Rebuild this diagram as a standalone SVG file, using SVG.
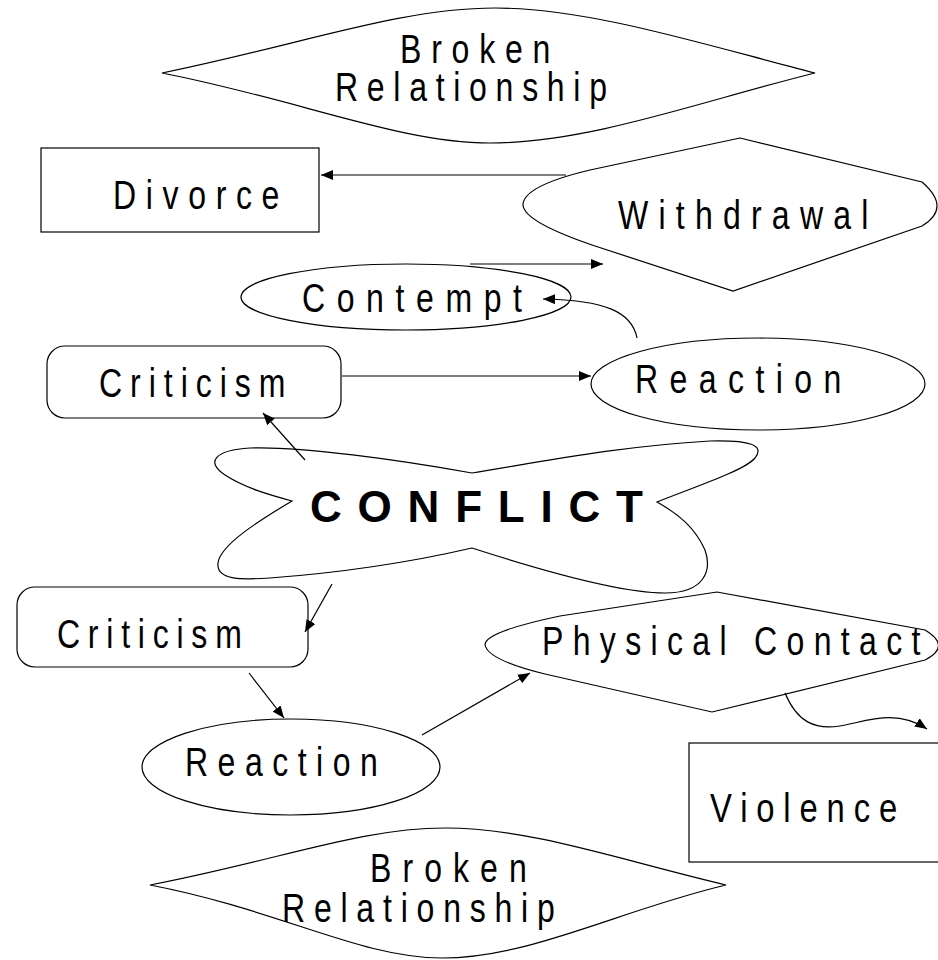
<svg xmlns="http://www.w3.org/2000/svg" width="938" height="960" viewBox="0 0 938 960">
<defs>
<marker id="ah" viewBox="0 0 12 10" refX="12" refY="5" markerWidth="12" markerHeight="10" markerUnits="userSpaceOnUse" orient="auto">
<path d="M0,0 L12,5 L0,10 Z" fill="#000"/>
</marker>
<style>
.n{fill:#fff;stroke:#000;stroke-width:1.2}
.t{font-family:"Liberation Sans",Arial,sans-serif;font-size:40px;fill:#000}
.b{font-family:"Liberation Sans",Arial,sans-serif;font-size:44px;font-weight:bold;fill:#000}
.c{fill:none;stroke:#000;stroke-width:1.2}
</style>
</defs>
<rect width="938" height="960" fill="#fff"/>
<g id="broken-top">
<path class="n" d="M162,73 C300,45 400,8 495,8 C590,8 705,45 815,73 C705,100 590,143 490,143 C400,143 300,100 162,73 Z"/>
<text class="t" transform="translate(400,63) scale(0.8,1)" textLength="188" lengthAdjust="spacing">Broken</text>
<text class="t" transform="translate(335,101) scale(0.8,1)" textLength="340" lengthAdjust="spacing">Relationship</text>
</g>
<g id="divorce">
<rect class="n" x="41" y="148" width="278" height="84"/>
<text class="t" transform="translate(113,209) scale(0.8,1)" textLength="208" lengthAdjust="spacing">Divorce</text>
</g>
<g id="withdrawal">
<path class="n" d="M740,138 L590,170 Q523,186 523,205 Q524,222 595,246 L733,291 L922,226 Q952,208 922,182 Z"/>
<text class="t" transform="translate(618,229) scale(0.8,1)" textLength="313" lengthAdjust="spacing">Withdrawal</text>
</g>
<g id="contempt">
<ellipse class="n" cx="406" cy="297" rx="165" ry="33"/>
<text class="t" transform="translate(302,312) scale(0.8,1)" textLength="275" lengthAdjust="spacing">Contempt</text>
</g>
<g id="criticism-top">
<rect class="n" x="47" y="346" width="294" height="72" rx="18" ry="18"/>
<text class="t" transform="translate(99,397) scale(0.8,1)" textLength="233" lengthAdjust="spacing">Criticism</text>
</g>
<g id="reaction-top">
<ellipse class="n" cx="758" cy="384" rx="167" ry="46"/>
<text class="t" transform="translate(635,393) scale(0.8,1)" textLength="258" lengthAdjust="spacing">Reaction</text>
</g>
<g id="conflict">
<path class="n" d="M472,473 C400,460 300,446 250,448 C215,450 205,462 225,475 C245,488 270,495 292,501 C260,520 220,545 218,563 C216,580 240,580 270,578 C350,572 420,560 472,548 C540,570 620,593 665,593 C705,593 712,570 705,550 C695,528 680,515 657,502 C700,485 745,470 755,458 C765,445 750,440 710,441 C620,446 540,462 472,473 Z"/>
<text class="b" x="310" y="522" textLength="333" lengthAdjust="spacing">CONFLICT</text>
</g>
<g id="criticism-bottom">
<rect class="n" x="17" y="587" width="291" height="80" rx="18" ry="18"/>
<text class="t" transform="translate(57,648) scale(0.8,1)" textLength="231" lengthAdjust="spacing">Criticism</text>
</g>
<g id="reaction-bottom">
<ellipse class="n" cx="291" cy="767" rx="149" ry="48"/>
<text class="t" transform="translate(185,776) scale(0.8,1)" textLength="241" lengthAdjust="spacing">Reaction</text>
</g>
<g id="physical-contact">
<path class="n" d="M717,592 L560,616 Q484,632 485,645 Q488,660 545,674 L712,712 L925,660 Q952,646 925,630 Z"/>
<text class="t" transform="translate(542,655) scale(0.8,1)" textLength="473" lengthAdjust="spacing">Physical Contact</text>
</g>
<g id="violence">
<rect class="n" x="689" y="743" width="262" height="119"/>
<text class="t" style="font-size:41px" transform="translate(710,822) scale(0.8,1)" textLength="234" lengthAdjust="spacing">Violence</text>
</g>
<g id="broken-bottom">
<path class="n" d="M150,885 C280,860 360,828 445,828 C530,828 620,860 726,885 C620,910 530,958 442,958 C360,958 280,910 150,885 Z"/>
<text class="t" transform="translate(370,882) scale(0.8,1)" textLength="196" lengthAdjust="spacing">Broken</text>
<text class="t" transform="translate(282,922) scale(0.8,1)" textLength="341" lengthAdjust="spacing">Relationship</text>
</g>
<g id="connectors">
<path class="c" d="M566,175 L321,175" marker-end="url(#ah)"/>
<path class="c" d="M470,264 L603,264" marker-end="url(#ah)"/>
<path class="c" d="M637,338 C632,312 605,300 543,299" marker-end="url(#ah)"/>
<path class="c" d="M342,376 L591,376" marker-end="url(#ah)"/>
<path class="c" d="M305,460 L263,413" marker-end="url(#ah)"/>
<path class="c" d="M332,584 L305,632" marker-end="url(#ah)"/>
<path class="c" d="M249,673 L284,718" marker-end="url(#ah)"/>
<path class="c" d="M422,735 L530,673" marker-end="url(#ah)"/>
<path class="c" d="M785,693 C797,722 815,730 840,726 C865,722 895,708 927,729" marker-end="url(#ah)"/>
</g>
</svg>
